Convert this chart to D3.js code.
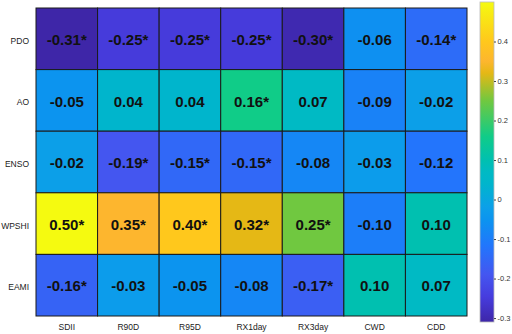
<!DOCTYPE html>
<html>
<head>
<meta charset="utf-8">
<script src="https://cdn.jsdelivr.net/npm/d3@7"></script>
<style>
  body { margin: 0; background: #fff; }
  svg { display: block; font-family: "Liberation Sans", Arial, sans-serif; }
</style>
</head>
<body>
<div id="chart"></div>
<script>
// rows / columns of the correlation table
const indices = ["PDO", "AO", "ENSO", "WPSHI", "EAMI"];
const extremes = ["SDII", "R90D", "R95D", "RX1day", "RX3day", "CWD", "CDD"];

// correlation values, one row per climate index
const values = [
  [-0.31, -0.25, -0.25, -0.25, -0.30, -0.06, -0.14],
  [-0.05, 0.04, 0.04, 0.16, 0.07, -0.09, -0.02],
  [-0.02, -0.19, -0.15, -0.15, -0.08, -0.03, -0.12],
  [0.50, 0.35, 0.40, 0.32, 0.25, -0.10, 0.10],
  [-0.16, -0.03, -0.05, -0.08, -0.17, 0.10, 0.07]
];

// significance flags (asterisk)
const signif = [
  [1, 1, 1, 1, 1, 0, 1],
  [0, 0, 0, 1, 0, 0, 0],
  [0, 1, 1, 1, 0, 0, 0],
  [1, 1, 1, 1, 1, 0, 0],
  [1, 0, 0, 0, 1, 0, 0]
];

const colorTicks = [-0.3, -0.2, -0.1, 0, 0.1, 0.2, 0.3, 0.4];
const colorDomain = [-0.31, 0.50];

// parula-like colormap, anchor colours and their position (0..1) on the bar
const parula = ["#3E26A8", "#463CDE", "#4456F0", "#2276FC", "#0C93F0", "#0CA0E8",
  "#00B5CC", "#00BAC4", "#00C0B0", "#10CC88", "#70C840", "#E5B815", "#FDB62E",
  "#FFC81C", "#F5FA10"];
const parulaPos = [0, 0.079, 0.148, 0.238, 0.317, 0.36, 0.432, 0.469, 0.506,
  0.58, 0.691, 0.778, 0.815, 0.877, 1];

const W = 512, H = 334;
const margin = { top: 8, left: 36 };
const plotW = 431, plotH = 308;

const svg = d3.select("#chart").append("svg")
  .attr("width", W)
  .attr("height", H);

const x = d3.scaleBand().domain(extremes).range([margin.left, margin.left + plotW]);
const y = d3.scaleBand().domain(indices).range([margin.top, margin.top + plotH]);

const t = d3.scaleLinear().domain(colorDomain).range([0, 1]).clamp(true);
const cmap = d3.scaleLinear().domain(parulaPos).range(parula).interpolate(d3.interpolateRgb);
const color = v => cmap(t(v));

// cells
const cells = [];
values.forEach((row, i) => row.forEach((v, j) => {
  cells.push({ r: indices[i], c: extremes[j], v: v, s: signif[i][j] });
}));

const g = svg.append("g");

g.selectAll("rect.cell")
  .data(cells)
  .join("rect")
  .attr("class", "cell")
  .attr("x", d => x(d.c))
  .attr("y", d => y(d.r))
  .attr("width", x.bandwidth())
  .attr("height", y.bandwidth())
  .attr("fill", d => color(d.v))
  .attr("stroke", "#1a1a1a")
  .attr("stroke-width", 1);

g.selectAll("text.val")
  .data(cells)
  .join("text")
  .attr("class", "val")
  .attr("x", d => x(d.c) + x.bandwidth() / 2)
  .attr("y", d => y(d.r) + y.bandwidth() / 2 + 1)
  .attr("dy", "0.35em")
  .attr("text-anchor", "middle")
  .attr("font-size", 15)
  .attr("font-weight", "bold")
  .attr("fill", "#111")
  .text(d => d.v.toFixed(2) + (d.s ? "*" : ""));

// row labels
svg.selectAll("text.rlab")
  .data(indices)
  .join("text")
  .attr("class", "rlab")
  .attr("x", 29)
  .attr("y", d => y(d) + y.bandwidth() / 2 + 2)
  .attr("dy", "0.35em")
  .attr("text-anchor", "end")
  .attr("font-size", 8.5)
  .attr("fill", "#222")
  .text(d => d);

// column labels
svg.selectAll("text.clab")
  .data(extremes)
  .join("text")
  .attr("class", "clab")
  .attr("x", d => x(d) + x.bandwidth() / 2)
  .attr("y", 327)
  .attr("dy", "0.35em")
  .attr("text-anchor", "middle")
  .attr("font-size", 8.5)
  .attr("fill", "#222")
  .text(d => d);

// colorbar
const cb = { x: 480, y: 2, w: 14, h: 320 };
const grad = svg.append("defs").append("linearGradient")
  .attr("id", "parula")
  .attr("x1", 0).attr("y1", 1).attr("x2", 0).attr("y2", 0);
grad.selectAll("stop")
  .data(parula)
  .join("stop")
  .attr("offset", (d, i) => parulaPos[i])
  .attr("stop-color", d => d);

svg.append("rect")
  .attr("x", cb.x)
  .attr("y", cb.y)
  .attr("width", cb.w)
  .attr("height", cb.h)
  .attr("fill", "url(#parula)")
  .attr("stroke", "#bbb")
  .attr("stroke-width", 0.8);

const cy = d3.scaleLinear().domain(colorDomain).range([cb.y + cb.h, cb.y]);
const cAxis = svg.append("g")
  .attr("transform", `translate(${cb.x + cb.w},0)`)
  .call(d3.axisRight(cy).tickValues(colorTicks).tickSize(2).tickPadding(1.5)
    .tickFormat(d => String(+d.toFixed(1))));
cAxis.select(".domain").remove();
cAxis.selectAll("line").attr("stroke", "#444");
cAxis.selectAll("text")
  .attr("font-size", 7.5)
  .attr("font-family", "Liberation Sans, Arial, sans-serif")
  .attr("fill", "#333");
</script>
</body>
</html>
